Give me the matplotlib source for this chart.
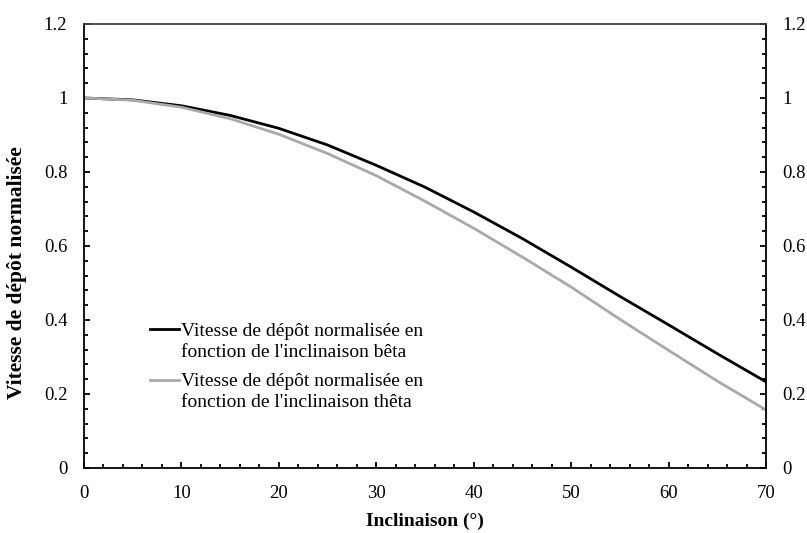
import matplotlib
matplotlib.use("Agg")
import matplotlib.pyplot as plt
from matplotlib.ticker import MultipleLocator
from matplotlib.legend_handler import HandlerLine2D

# inclinaison (deg) et vitesses normalisees
inclinaison = [0, 5, 10, 15, 20, 25, 30, 35, 40, 45, 50, 55, 60, 65, 70]
vitesse_beta = [1.0, 0.995, 0.979, 0.953, 0.918, 0.873, 0.818, 0.759, 0.692,
                0.620, 0.543, 0.464, 0.387, 0.309, 0.233]
vitesse_theta = [1.0, 0.994, 0.975, 0.944, 0.902, 0.850, 0.790, 0.721, 0.648,
                 0.570, 0.489, 0.402, 0.318, 0.235, 0.157]

label_beta = "Vitesse de dépôt normalisée en\nfonction de l'inclinaison bêta"
label_theta = "Vitesse de dépôt normalisée en\nfonction de l'inclinaison thêta"
yticks = [0, 0.2, 0.4, 0.6, 0.8, 1.0, 1.2]
ytick_labels = ["0", "0.2", "0.4", "0.6", "0.8", "1", "1.2"]


class FirstLineHandler(HandlerLine2D):
    # trait de legende aligne sur la premiere ligne du texte (comme Excel)
    def create_artists(self, legend, orig_handle, xdescent, ydescent,
                       width, height, fontsize, trans):
        arts = super().create_artists(legend, orig_handle, xdescent, ydescent,
                                      width, height, fontsize, trans)
        for a in arts:
            a.set_ydata([y + 0.62 * fontsize for y in a.get_ydata()])
        return arts


plt.rcParams['font.family'] = ['Liberation Serif', 'DejaVu Serif']
plt.rcParams['font.size'] = 14

fig = plt.figure(figsize=(8.07, 5.33), dpi=100)
ax = fig.add_axes([84 / 807, 1 - 468 / 533, 682 / 807, 444 / 533])

ax.plot(inclinaison, vitesse_beta, color="black", lw=2.0, label=label_beta)
ax.plot(inclinaison, vitesse_theta, color="#a9a9a9", lw=2.0, label=label_theta)

ax.set_xlim(0, 70)
ax.set_ylim(0, 1.2)
ax.xaxis.set_major_locator(MultipleLocator(10))
ax.xaxis.set_minor_locator(MultipleLocator(2))
ax.set_yticks(yticks)
ax.set_yticklabels(ytick_labels)
ax.yaxis.set_minor_locator(MultipleLocator(0.04))

ax.tick_params(which="both", direction="in", top=False, right=True,
               labelright=True, width=1.3, labelsize=13.5)
ax.tick_params(axis="x", pad=12)
ax.tick_params(axis="y", pad=12)
ax.tick_params(which="major", length=4.5)
ax.tick_params(which="minor", length=3.2)
for s in ax.spines.values():
    s.set_linewidth(1.3)
ax.spines["top"].set_color("#404040")

ax.set_xlabel("Inclinaison (°)", fontweight="bold", fontsize=14, labelpad=8)
ax.set_ylabel("Vitesse de dépôt normalisée", fontweight="bold", fontsize=15.5)
ax.yaxis.set_label_coords(-0.084, 0.44)

leg = ax.legend(loc="upper left", bbox_to_anchor=(0.097, 0.327), frameon=False,
                handlelength=1.5, handletextpad=0.1, labelspacing=0.65,
                borderaxespad=0, borderpad=0, fontsize=14,
                handler_map={plt.Line2D: FirstLineHandler()})
for t in leg.get_texts():
    t.set_linespacing(1.3)

fig.savefig("out.png", dpi=100)
